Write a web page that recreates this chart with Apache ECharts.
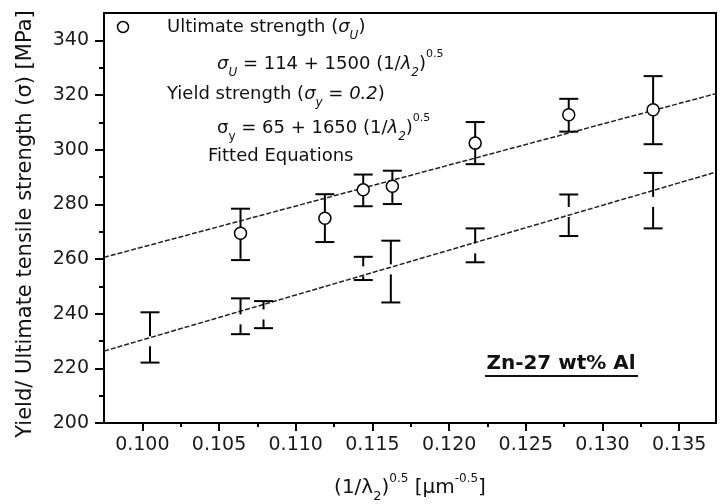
<!DOCTYPE html>
<html>
<head>
<meta charset="utf-8">
<script src="https://cdn.jsdelivr.net/npm/echarts@6/dist/echarts.min.js"></script>
<style>
  html, body { margin: 0; padding: 0; background: #fff; }
  #chart { width: 721px; height: 504px; }
</style>
</head>
<body>
<div id="chart"></div>
<script>
// ultimate strength points (open circles) with error bars
const ultX = [0.1064, 0.1119, 0.1144, 0.1163, 0.1217, 0.1278, 0.1333];
const ultVal = [269.4, 274.9, 285.3, 286.6, 302.4, 312.8, 314.6];
const ultLow = [259.6, 266.2, 279.3, 280.1, 294.7, 306.6, 302.0];
const ultHigh = [278.4, 283.7, 290.9, 292.3, 310.1, 318.6, 326.9];

// yield strength (error bars only, gap where the hidden marker sits)
const ysX = [0.1005, 0.1064, 0.1079, 0.1144, 0.1162, 0.1217, 0.1278, 0.1333];
const ysVal = [229.9, 237.9, 239.7, 255.5, 256.2, 263.9, 277.2, 280.9];
const ysLow = [222.1, 232.5, 234.7, 252.3, 244.1, 258.8, 268.4, 271.2];
const ysHigh = [240.5, 245.6, 244.6, 260.8, 266.7, 271.2, 283.6, 291.5];

// fitted lines, end points
const fitX = [0.0975, 0.1374];
const ultFit = [260.6, 320.5];
const ysFit = [226.3, 291.8];

// axis ticks
const xMajor = [0.100, 0.105, 0.110, 0.115, 0.120, 0.125, 0.130, 0.135];
const xMinor = [0.1025, 0.1075, 0.1125, 0.1175, 0.1225, 0.1275, 0.1325];
const yMajor = [200, 220, 240, 260, 280, 300, 320, 340];
const yMinor = [210, 230, 250, 270, 290, 310, 330];

const FONT = 'DejaVu Sans';

function richStyles(size) {
  return {
    it: { fontStyle: 'italic', fontSize: size, fontFamily: FONT, lineHeight: 30, color: '#111' },
    sub: { fontSize: Math.round(size * 0.65), fontFamily: FONT, verticalAlign: 'bottom', lineHeight: 13, color: '#111' },
    isub: { fontStyle: 'italic', fontSize: Math.round(size * 0.65), fontFamily: FONT, verticalAlign: 'bottom', lineHeight: 13, color: '#111' },
    sup: { fontSize: Math.round(size * 0.62), fontFamily: FONT, verticalAlign: 'top', lineHeight: 12, color: '#111' }
  };
}

function errorBar(gap) {
  return function (params, api) {
    const x = api.value(0);
    const top = api.coord([x, api.value(2)]);
    const bot = api.coord([x, api.value(1)]);
    const mid = api.coord([x, api.value(3)]);
    const half = 9.5;
    const st = { stroke: '#000', lineWidth: 2, fill: null };
    const kids = [
      { type: 'line', shape: { x1: top[0] - half, y1: top[1], x2: top[0] + half, y2: top[1] }, style: st },
      { type: 'line', shape: { x1: bot[0] - half, y1: bot[1], x2: bot[0] + half, y2: bot[1] }, style: st }
    ];
    if (gap) {
      kids.push({ type: 'line', shape: { x1: top[0], y1: top[1], x2: top[0], y2: Math.max(top[1], mid[1] - gap) }, style: st });
      kids.push({ type: 'line', shape: { x1: bot[0], y1: Math.min(bot[1], mid[1] + gap), x2: bot[0], y2: bot[1] }, style: st });
    } else {
      kids.push({ type: 'line', shape: { x1: top[0], y1: top[1], x2: bot[0], y2: bot[1] }, style: st });
    }
    return { type: 'group', children: kids };
  };
}

const chart = echarts.init(document.getElementById('chart'));

const axisLineStyle = { color: '#000', width: 2 };
const xRange = { min: 0.0975, max: 0.1374 };
const yRange = { min: 200, max: 350 };

chart.setOption({
  animation: false,
  backgroundColor: '#fff',
  grid: {
    left: 104, right: 5, top: 13, bottom: 81, outerBoundsMode: 'none',
    show: true, borderColor: '#000', borderWidth: 2
  },
  xAxis: [
    {
      type: 'value', ...xRange,
      axisLine: { lineStyle: axisLineStyle },
      axisTick: { customValues: xMajor, length: 8, lineStyle: axisLineStyle },
      axisLabel: {
        customValues: xMajor, formatter: v => v.toFixed(3),
        fontSize: 19, fontFamily: FONT, color: '#1a1a1a', margin: 13
      },
      splitLine: { show: false },
      name: '(1/λ{sub|2}){sup|0.5} [µm{sup|-0.5}]',
      nameLocation: 'middle', nameGap: 50,
      nameTextStyle: { fontSize: 20, fontFamily: FONT, color: '#111', lineHeight: 30, rich: richStyles(20) }
    },
    {
      type: 'value', ...xRange, position: 'bottom',
      axisLine: { show: false },
      axisTick: { customValues: xMinor, length: 4, lineStyle: axisLineStyle },
      axisLabel: { show: false },
      splitLine: { show: false }
    }
  ],
  yAxis: [
    {
      type: 'value', ...yRange,
      axisLine: { lineStyle: axisLineStyle },
      axisTick: { customValues: yMajor, length: 9, lineStyle: axisLineStyle },
      axisLabel: { customValues: yMajor, fontSize: 19, fontFamily: FONT, color: '#1a1a1a', margin: 15 },
      splitLine: { show: false },
      name: 'Yield/ Ultimate tensile strength (σ) [MPa]',
      nameLocation: 'middle', nameGap: 68,
      nameTextStyle: { fontSize: 21, fontFamily: FONT, color: '#111', padding: [0, 12, 0, 0] }
    },
    {
      type: 'value', ...yRange, position: 'left',
      axisLine: { show: false },
      axisTick: { customValues: yMinor, length: 5, lineStyle: axisLineStyle },
      axisLabel: { show: false },
      splitLine: { show: false }
    }
  ],
  series: [
    {
      type: 'line', silent: true, showSymbol: false, z: 2,
      data: fitX.map((x, i) => [x, ultFit[i]]),
      lineStyle: { color: '#222', width: 1.5, type: [5, 2] }
    },
    {
      type: 'line', silent: true, showSymbol: false, z: 2,
      data: fitX.map((x, i) => [x, ysFit[i]]),
      lineStyle: { color: '#222', width: 1.5, type: [5, 2] }
    },
    {
      type: 'custom', z: 3,
      renderItem: errorBar(0),
      encode: { x: 0, y: [1, 2] },
      data: ultX.map((x, i) => [x, ultLow[i], ultHigh[i], ultVal[i]])
    },
    {
      type: 'custom', z: 3,
      renderItem: errorBar(5),
      encode: { x: 0, y: [1, 2] },
      data: ysX.map((x, i) => [x, ysLow[i], ysHigh[i], ysVal[i]])
    },
    {
      type: 'scatter', z: 5, symbol: 'circle', symbolSize: 12,
      itemStyle: { color: '#fff', borderColor: '#000', borderWidth: 1.5, opacity: 1 },
      data: ultX.map((x, i) => [x, ultVal[i]])
    }
  ],
  graphic: [
    { type: 'circle', shape: { cx: 123, cy: 27, r: 5.5 }, style: { fill: '#fff', stroke: '#000', lineWidth: 1.5 } },
    {
      type: 'text', x: 167, y: 27,
      style: {
        text: 'Ultimate strength ({it|σ}{isub|U})', fontSize: 18, fontFamily: FONT, fill: '#111',
        lineHeight: 30, verticalAlign: 'middle', rich: richStyles(18)
      }
    },
    {
      type: 'text', x: 217, y: 64,
      style: {
        text: '{it|σ}{isub|U} = 114 + 1500 (1/{it|λ}{isub|2}){sup|0.5}', fontSize: 18, fontFamily: FONT, fill: '#111',
        lineHeight: 30, verticalAlign: 'middle', rich: richStyles(18)
      }
    },
    {
      type: 'text', x: 167, y: 94,
      style: {
        text: 'Yield strength ({it|σ}{isub|y}{it| = 0.2})', fontSize: 18, fontFamily: FONT, fill: '#111',
        lineHeight: 30, verticalAlign: 'middle', rich: richStyles(18)
      }
    },
    {
      type: 'text', x: 217, y: 128,
      style: {
        text: 'σ{sub|y} = 65 + 1650 (1/{it|λ}{isub|2}){sup|0.5}', fontSize: 18, fontFamily: FONT, fill: '#111',
        lineHeight: 30, verticalAlign: 'middle', rich: richStyles(18)
      }
    },
    {
      type: 'text', x: 208, y: 156,
      style: { text: 'Fitted Equations', fontSize: 18, fontFamily: FONT, fill: '#111', verticalAlign: 'middle' }
    },
    {
      type: 'text', x: 561, y: 364,
      style: { text: 'Zn-27 wt% Al', fontSize: 20, fontWeight: 'bold', fontFamily: FONT, fill: '#111', align: 'center', verticalAlign: 'middle' }
    },
    { type: 'line', shape: { x1: 485, y1: 376, x2: 638, y2: 376 }, style: { stroke: '#111', lineWidth: 2 } }
  ]
});
</script>
</body>
</html>
